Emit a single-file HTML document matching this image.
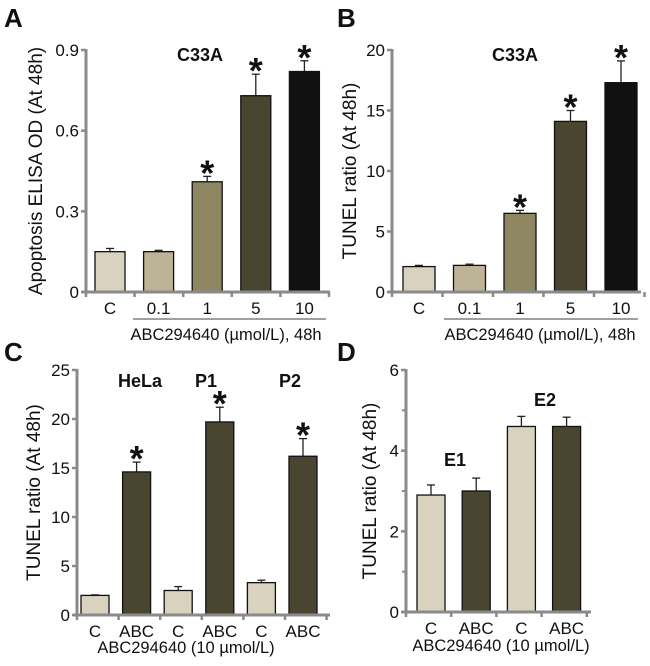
<!DOCTYPE html>
<html><head><meta charset="utf-8">
<style>
body{margin:0;background:#fff;}
svg{display:block;font-family:"Liberation Sans",Arial,sans-serif;}
</style></head>
<body>
<svg id="fig" width="650" height="666" viewBox="0 0 650 666"></svg>
<script>
// Panel A data
const catsA = ["C","0.1","1","5","10"];
const valsA = [0.15,0.15,0.41,0.73,0.82];
const errsA = [0.012,0.005,0.02,0.08,0.04];
const starA = [false,false,true,true,true];
const ticksA = [0,0.3,0.6,0.9];
const tickLabA = ["0","0.3","0.6","0.9"];
// Panel B data
const catsB = ["C","0.1","1","5","10"];
const valsB = [2.1,2.2,6.5,14.1,17.3];
const errsB = [0.1,0.1,0.25,0.9,1.8];
const starB = [false,false,true,true,true];
const ticksB = [0,5,10,15,20];
const tickLabB = ["0","5","10","15","20"];
// Panel C data
const catsC = ["C","ABC","C","ABC","C","ABC"];
const valsC = [2.0,14.6,2.5,19.7,3.3,16.2];
const errsC = [0.05,1.0,0.4,1.5,0.25,1.8];
const starC = [false,true,false,true,false,true];
const ticksC = [0,5,10,15,20,25];
const tickLabC = ["0","5","10","15","20","25"];
// Panel D data
const catsD = ["C","ABC","C","ABC"];
const valsD = [2.9,3.0,4.6,4.6];
const errsD = [0.25,0.32,0.25,0.23];
const starD = [false,false,false,false];
const ticksD = [0,2,4,6];
const tickLabD = ["0","2","4","6"];

const NS="http://www.w3.org/2000/svg";
const svg=document.getElementById('fig');
function mk(tag,attrs,parent,text){
  const e=document.createElementNS(NS,tag);
  for(const k in attrs) e.setAttribute(k,attrs[k]);
  if(text!==undefined) e.textContent=text;
  (parent||svg).appendChild(e);
  return e;
}
function panel(o){
  const g=mk('g',{});
  
  
  const ymax=o.ticks[o.ticks.length-1];
  const Y=v=>o.y0-(v/ymax)*(o.y0-o.ytop);
  const X=i=>o.x1+o.bx0+i*o.step;
  o.vals.forEach((v,i)=>{
    const x=X(i), y=Y(v), ye=Y(v+o.errs[i]);
    const el=mk('line',{x1:x+o.bw/2,x2:x+o.bw/2,y1:y,y2:ye,stroke:'#222','stroke-width':1.3},g);
    
    
    const cap=mk('line',{x1:x+o.bw/2-4,x2:x+o.bw/2+4,y1:ye,y2:ye,stroke:'#222','stroke-width':1.3},g);
    
    
    const b=mk('rect',{x:x,y:y,width:o.bw,height:o.y0-y,fill:o.colors[i],stroke:'#111','stroke-width':1.3},g);
    
    
    if(o.stars[i]){
      const s=mk('text',{x:x+o.bw/2,y:ye+9,'text-anchor':'middle','font-size':36,'font-weight':'bold',fill:'#111'},g,'*');
      
      
    }
    const t=mk('text',{x:x+o.bw/2,y:o.y0+22,'text-anchor':'middle','font-size':17,fill:'#111'},g,o.cats[i]);
    
    
  });
  const ya=mk('line',{x1:o.x1,x2:o.x1,y1:o.ytop-1,y2:o.y0+1,stroke:'#8a8a8a','stroke-width':3},g);
  
  
  const xa=mk('line',{x1:o.x1-4,x2:o.xend,y1:o.y0,y2:o.y0,stroke:'#8a8a8a','stroke-width':3},g);
  
  
  for(let i=0;i<=o.vals.length;i++){
    const tx=o.x1+i*o.step;
    mk('line',{x1:tx,x2:tx,y1:o.y0,y2:o.y0+5,stroke:'#8a8a8a','stroke-width':2.5},g);
  }
  o.ticks.forEach((v,i)=>{
    mk('line',{x1:o.x1-5,x2:o.x1,y1:Y(v),y2:Y(v),stroke:'#8a8a8a','stroke-width':2.5},g);
    const t=mk('text',{x:o.x1-7,y:Y(v)+6,'text-anchor':'end','font-size':17,fill:'#111'},g,o.tickLab[i]);
    
    
  });
  if(o.minor){o.minor.forEach(v=>mk('line',{x1:o.x1-4,x2:o.x1,y1:Y(v),y2:Y(v),stroke:'#8a8a8a','stroke-width':2},g));}
  const yl=mk('text',{transform:`translate(${o.ylx},${(o.y0+o.ytop)/2}) rotate(-90)`,'text-anchor':'middle','font-size':19,fill:'#111'},g,o.ylabel);
  
  
  const pl=mk('text',{x:o.lx,y:o.ly,'font-size':26,'font-weight':'bold',fill:'#111'},g,o.letter);
  
  
  o.titles.forEach(tt=>{
    const t=mk('text',{x:tt[0],y:tt[1],'text-anchor':'middle','font-size':18,'font-weight':'bold',fill:'#111'},g,tt[2]);
    
    
  });
  if(o.bracket){
    mk('line',{x1:o.bracket[0],x2:o.bracket[1],y1:o.y0+27,y2:o.y0+27,stroke:'#666','stroke-width':1.3},g);
  }
  const xt=mk('text',{x:o.xtx,y:o.xty,'text-anchor':'middle','font-size':16.5,fill:'#111'},g,o.xtitle);
  
  
}
const five=['#d8d2bf','#bdb496','#8f8762','#4a4530','#111111'];
panel({name:'panel-a',letter:'A',lx:4,ly:27,x1:86,y0:292,ytop:50,xend:330,bx0:9,step:48.6,bw:30,
  vals:valsA,errs:errsA,stars:starA,cats:catsA,ticks:ticksA,tickLab:tickLabA,colors:five,
  ylabel:'Apoptosis ELISA OD (At 48h)',ylx:42,titles:[[200,61,'C33A']],bracket:[133,326],
  xtitle:'ABC294640 (µmol/L), 48h',xtx:226,xty:340});
panel({name:'panel-b',letter:'B',lx:337,ly:27,x1:392,y0:292,ytop:50,xend:641,bx0:11,step:50.5,bw:32,
  vals:valsB,errs:errsB,stars:starB,cats:catsB,ticks:ticksB,tickLab:tickLabB,colors:five,
  ylabel:'TUNEL ratio (At 48h)',ylx:356,titles:[[515,61,'C33A']],bracket:[444,638],
  xtitle:'ABC294640 (µmol/L), 48h',xtx:540,xty:340});
const pairC=['#d8d2bf','#4a4530','#d8d2bf','#4a4530','#d8d2bf','#4a4530'];
panel({name:'panel-c',letter:'C',lx:4,ly:361,x1:77,y0:615,ytop:370,xend:330,bx0:4,step:41.6,bw:28,
  vals:valsC,errs:errsC,stars:starC,cats:catsC,ticks:ticksC,tickLab:tickLabC,colors:pairC,
  ylabel:'TUNEL ratio (At 48h)',ylx:40,titles:[[140,387,'HeLa'],[206,387,'P1'],[290,387,'P2']],
  xtitle:'ABC294640 (10 µmol/L)',xtx:186,xty:653});
panel({name:'panel-d',letter:'D',lx:337,ly:361,x1:406,y0:612,ytop:370,xend:591,bx0:11,step:45.2,bw:28,
  vals:valsD,errs:errsD,stars:starD,cats:catsD,ticks:ticksD,tickLab:tickLabD,colors:pairC,minor:[1,3,5],
  ylabel:'TUNEL ratio (At 48h)',ylx:376,titles:[[455,466,'E1'],[545,406,'E2']],
  xtitle:'ABC294640 (10 µmol/L)',xtx:501,xty:651});
</script>
</body></html>
